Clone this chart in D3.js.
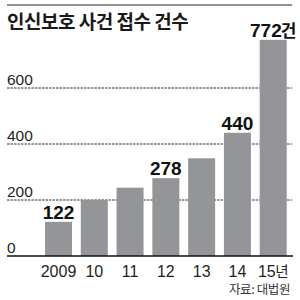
<!DOCTYPE html>
<html>
<head>
<meta charset="utf-8">
<script src="https://cdn.jsdelivr.net/npm/d3@7"></script>
<style>
  html, body { margin: 0; padding: 0; background: #fff; }
  svg { display: block; }
</style>
</head>
<body>
<svg id="chart"></svg>
<script>
// 인신보호 사건 접수 건수
const years = ["2009", "10", "11", "12", "13", "14", "15"]
const counts = [122, 200, 244, 278, 349, 440, 772]
const labelled = ["2009", "12", "14", "15"]
const yTicks = [0, 200, 400, 600]

const width = 300
const height = 300
const narrow = "'Liberation Sans Narrow', 'Arial Narrow', sans-serif"
const korean = "'Noto Sans CJK KR', sans-serif"

const svg = d3.select("#chart")
  .attr("width", width)
  .attr("height", height)

const x = d3.scaleBand()
  .domain(years)
  .range([40.7, 291])
  .paddingInner(0.246)
  .paddingOuter(0.12)

const y = d3.scaleLinear()
  .domain([0, 800])
  .range([256, 32])

// top rule
svg.append("line")
  .attr("x1", 7).attr("x2", 292)
  .attr("y1", 5).attr("y2", 5)
  .attr("stroke", "#6d6e71")
  .attr("stroke-width", 1.5)

svg.append("text")
  .attr("x", 7)
  .attr("y", 29)
  .attr("font-family", korean)
  .attr("font-weight", "bold")
  .attr("font-size", 19)
  .attr("letter-spacing", -0.5)
  .attr("fill", "#1a1a1a")
  .text("인신보호 사건 접수 건수")

// dashed grid, drawn under the bars
svg.append("g")
  .selectAll("line")
  .data(yTicks.filter(d => d > 0))
  .join("line")
  .attr("x1", 7).attr("x2", 292)
  .attr("y1", d => y(d)).attr("y2", d => y(d))
  .attr("stroke", "#333")
  .attr("stroke-width", 1)
  .attr("stroke-dasharray", "2.5,1")

svg.append("g")
  .selectAll("text")
  .data(yTicks)
  .join("text")
  .attr("x", 7)
  .attr("y", d => y(d) - 3)
  .attr("font-family", narrow)
  .attr("font-size", 15.5)
  .attr("fill", "#231f20")
  .text(d => d)

svg.append("g")
  .selectAll("rect")
  .data(counts)
  .join("rect")
  .attr("x", (d, i) => x(years[i]))
  .attr("y", d => y(d))
  .attr("width", x.bandwidth())
  .attr("height", d => y(0) - y(d))
  .attr("fill", "#949598")

// value labels on a few bars
const valueLabels = svg.append("g")
  .selectAll("text")
  .data(counts.map((d, i) => ({ year: years[i], value: d })).filter(d => labelled.includes(d.year)))
  .join("text")
  .attr("x", d => x(d.year) + x.bandwidth() / 2)
  .attr("y", d => y(d.value) - 3)
  .attr("text-anchor", "middle")
  .attr("font-family", narrow)
  .attr("font-weight", "bold")
  .attr("font-size", 19)
  .attr("fill", "#111")

valueLabels.append("tspan").text(d => d.value)
valueLabels.filter(d => d.year === "15")
  .append("tspan")
  .attr("font-family", korean)
  .attr("font-size", 17)
  .attr("dx", -1)
  .text("건")

// baseline axis
svg.append("line")
  .attr("x1", 7).attr("x2", 293)
  .attr("y1", y(0)).attr("y2", y(0))
  .attr("stroke", "#111")
  .attr("stroke-width", 1.5)

const xLabels = svg.append("g")
  .selectAll("text")
  .data(years)
  .join("text")
  .attr("x", d => x(d) + x.bandwidth() / 2)
  .attr("y", 277)
  .attr("text-anchor", "middle")
  .attr("font-family", narrow)
  .attr("font-size", 16)
  .attr("fill", "#231f20")

xLabels.append("tspan").text(d => d)
xLabels.filter(d => d === "15")
  .append("tspan")
  .attr("font-family", korean)
  .attr("font-size", 14.5)
  .attr("dx", -0.5)
  .text("년")

svg.append("text")
  .attr("x", 290)
  .attr("y", 294)
  .attr("text-anchor", "end")
  .attr("font-family", korean)
  .attr("font-size", 12.5)
  .attr("letter-spacing", -0.4)
  .attr("fill", "#333")
  .text("자료: 대법원")
</script>
</body>
</html>
